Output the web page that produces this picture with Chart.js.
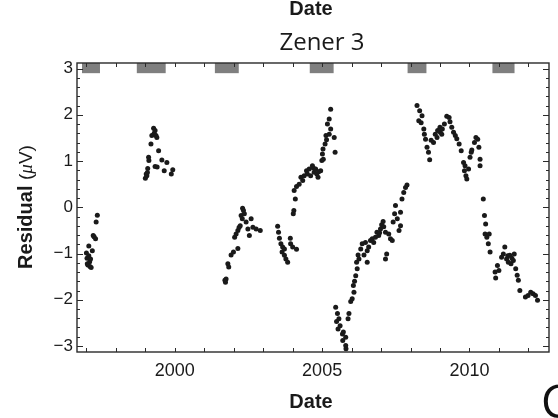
<!DOCTYPE html>
<html>
<head>
<meta charset="utf-8">
<script src="https://cdn.jsdelivr.net/npm/chart.js@4.4.1/dist/chart.umd.min.js"></script>
<style>
  html, body { margin: 0; padding: 0; background: #fff; }
  #wrap { width: 558px; height: 418px; }
</style>
</head>
<body>
<div id="wrap"><canvas id="myChart" width="558" height="418"></canvas></div>
<script>
// residual readings, date in decimal years
const dates = [
  1997.00, 1997.02, 1997.03, 1997.05, 1997.08, 1997.08, 1997.11, 1997.12, 1997.14, 1997.16, 1997.20, 1997.23, 1997.26, 1997.31, 1997.33, 1997.37,
  1999.00, 1999.03, 1999.05, 1999.07, 1999.08, 1999.11, 1999.12, 1999.19, 1999.22, 1999.28, 1999.30, 1999.33, 1999.33, 1999.36, 1999.39, 1999.40, 1999.45, 1999.56, 1999.64, 1999.73, 1999.88, 1999.93,
  2001.70, 2001.72, 2001.74, 2001.80, 2001.83, 2001.91, 2001.99, 2002.03, 2002.08, 2002.14, 2002.14, 2002.18, 2002.22, 2002.25, 2002.29, 2002.30, 2002.33, 2002.36, 2002.42, 2002.48, 2002.53, 2002.59, 2002.65, 2002.76, 2002.90,
  2003.49, 2003.52, 2003.55, 2003.60, 2003.64, 2003.66, 2003.72, 2003.72, 2003.77, 2003.83, 2003.92, 2003.93, 2004.00, 2004.13,
  2004.02, 2004.04, 2004.05, 2004.09, 2004.13, 2004.22, 2004.28, 2004.34, 2004.39, 2004.47, 2004.50, 2004.56, 2004.61, 2004.67, 2004.70, 2004.73, 2004.78, 2004.82, 2004.86, 2004.88, 2004.95, 2004.99,
  2005.01, 2005.03, 2005.04, 2005.10, 2005.13, 2005.15, 2005.18, 2005.24, 2005.24, 2005.29, 2005.29, 2005.41, 2005.44,
  2005.46, 2005.49, 2005.52, 2005.54, 2005.57, 2005.61, 2005.69, 2005.70, 2005.72, 2005.80, 2005.80, 2005.81, 2005.88, 2005.91, 2005.97,
  2006.02, 2006.06, 2006.08, 2006.10, 2006.14, 2006.17, 2006.19, 2006.22, 2006.25, 2006.31, 2006.36, 2006.42, 2006.47, 2006.53, 2006.53, 2006.58, 2006.64, 2006.70, 2006.75, 2006.81, 2006.86, 2006.92, 2006.95, 2006.98,
  2007.02, 2007.07, 2007.09, 2007.15, 2007.15, 2007.19, 2007.26, 2007.32, 2007.38, 2007.41, 2007.46, 2007.49, 2007.55, 2007.61, 2007.66, 2007.66, 2007.71, 2007.77, 2007.83, 2007.88,
  2008.22, 2008.28, 2008.31, 2008.36, 2008.39, 2008.45, 2008.47, 2008.51, 2008.56, 2008.61, 2008.65, 2008.70, 2008.78, 2008.84, 2008.90, 2008.92,
  2009.00, 2009.01, 2009.06, 2009.08, 2009.15, 2009.23, 2009.31, 2009.34, 2009.40, 2009.46, 2009.52, 2009.57, 2009.65, 2009.72, 2009.80, 2009.83, 2009.85, 2009.88, 2009.91, 2009.97,
  2010.02, 2010.06, 2010.08, 2010.17, 2010.22, 2010.28, 2010.32, 2010.36, 2010.36,
  2010.47, 2010.51, 2010.53, 2010.55, 2010.59, 2010.64, 2010.67, 2010.70, 2010.87, 2010.89, 2010.95,
  2011.00, 2011.09, 2011.15, 2011.20, 2011.26, 2011.30, 2011.32, 2011.37, 2011.41, 2011.44, 2011.49, 2011.52, 2011.57, 2011.62, 2011.66, 2011.71, 2011.90, 2011.99,
  2012.08, 2012.16, 2012.24, 2012.31
];
const residuals = [
  -0.99, -1.10, -1.22, -1.25, -0.84, -1.05, -1.18, -1.28, -1.12, -1.30, -0.94, -0.61, -0.64, -0.68, -0.32, -0.17,
  0.63, 0.72, 0.68, 0.75, 0.84, 1.08, 1.01, 1.37, 1.55, 1.71, 1.60, 1.66, 0.88, 1.55, 1.51, 0.87, 1.22, 1.02, 0.79, 0.97, 0.72, 0.81,
  -1.58, -1.62, -1.55, -1.22, -1.29, -1.03, -0.97, -0.65, -0.58, -0.50, -0.89, -0.44, -0.40, -0.18, -0.25, -0.02, -0.07, -0.14, -0.32, -0.47, -0.61, -0.25, -0.43, -0.47, -0.50,
  -0.41, -0.54, -0.67, -0.79, -0.97, -0.86, -0.90, -1.04, -1.12, -1.19, -0.67, -0.79, -0.86, -0.91,
  -0.14, -0.07, 0.36, 0.18, 0.45, 0.50, 0.65, 0.58, 0.68, 0.79, 0.72, 0.83, 0.68, 0.90, 0.85, 0.76, 0.83, 0.72, 0.65, 0.77, 0.79, 1.01,
  1.15, 1.26, 1.04, 1.37, 1.55, 1.46, 1.80, 1.58, 1.91, 1.69, 2.12, 1.51, 1.19,
  -2.16, -2.47, -2.30, -2.63, -2.41, -2.56, -2.74, -2.88, -2.70, -2.81, -2.99, -3.06, -2.41, -2.30, -2.04,
  -1.98, -1.69, -1.84, -1.60, -1.48, -1.19, -1.33, -1.03, -1.12, -0.90, -0.79, -1.03, -0.76, -0.94, -1.19, -0.86, -0.72, -0.68, -0.76, -0.65, -0.54, -0.61, -0.55, -0.47,
  -0.38, -0.31, -0.42, -0.54, -1.12, -1.01, -0.58, -0.68, -0.72, -0.32, -0.14, 0.04, -0.25, -0.50, -0.40, -0.11, 0.18, 0.32, 0.43, 0.48,
  2.20, 1.87, 2.09, 1.83, 1.98, 1.69, 1.58, 1.47, 1.30, 1.19, 1.03, 1.45, 1.40, 1.58, 1.51, 1.66,
  1.73, 1.62, 1.58, 1.69, 1.80, 1.97, 1.94, 1.85, 1.73, 1.62, 1.55, 1.48, 1.37, 1.22, 0.97, 0.79, 0.90, 0.68, 0.61, 0.83,
  1.08, 1.19, 1.24, 1.40, 1.51, 1.47, 1.30, 1.04, 0.90,
  0.18, -0.18, -0.58, -0.36, -0.65, -0.79, -0.58, -0.97, -1.40, -1.53, -1.26,
  -1.37, -1.08, -1.01, -0.86, -1.12, -1.05, -1.19, -1.04, -1.22, -1.10, -1.15, -1.01, -1.33, -1.47, -1.58, -1.80, -1.94, -1.91,
  -1.84, -1.87, -1.91, -2.01
];

// grey bars along the top edge (start / end in decimal years)
const boxStart = [1996.85, 1998.71, 2001.36, 2004.58, 2007.90, 2010.78];
const boxEnd   = [1997.46, 1999.69, 2002.17, 2005.39, 2008.54, 2011.53];
const boxBottom = 2.9;

const xLabelYears = [2000, 2005, 2010];
const yLabelValues = [-3, -2, -1, 0, 1, 2, 3];

const points = dates.map((d, i) => ({ x: d, y: residuals[i] }));

const frameColor = '#2a2a2a';
const sansFont = '"Liberation Sans", Arial, sans-serif';

const framePlugin = {
  id: 'framePlugin',
  beforeDatasetsDraw(chart) {
    const { ctx, scales: { x, y } } = chart;
    ctx.save();
    ctx.fillStyle = '#7f7f7f';
    for (let i = 0; i < boxStart.length; i++) {
      const x0 = x.getPixelForValue(boxStart[i]);
      const x1 = x.getPixelForValue(boxEnd[i]);
      const y0 = y.getPixelForValue(y.max);
      const y1 = y.getPixelForValue(boxBottom);
      ctx.fillRect(x0, y0, x1 - x0, y1 - y0);
    }
    ctx.restore();
  },
  afterDraw(chart) {
    const { ctx, chartArea: a, scales: { x, y } } = chart;
    ctx.save();
    ctx.strokeStyle = frameColor;
    ctx.lineWidth = 1.4;
    ctx.strokeRect(a.left, a.top, a.right - a.left, a.bottom - a.top);

    // inward ticks on all four sides
    ctx.lineWidth = 1;
    ctx.beginPath();
    x.ticks.forEach(t => {
      const px = Math.round(x.getPixelForValue(t.value)) + 0.5;
      ctx.moveTo(px, a.bottom); ctx.lineTo(px, a.bottom - 4);
      ctx.moveTo(px, a.top); ctx.lineTo(px, a.top + 4);
    });
    y.ticks.forEach(t => {
      const major = Math.abs(t.value - Math.round(t.value)) < 1e-6;
      const len = major ? 6 : 3;
      const py = Math.round(y.getPixelForValue(t.value)) + 0.5;
      ctx.moveTo(a.left, py); ctx.lineTo(a.left + len, py);
      ctx.moveTo(a.right, py); ctx.lineTo(a.right - len, py);
    });
    ctx.stroke();

    // titles
    ctx.fillStyle = '#1a1a1a';
    ctx.textAlign = 'center';
    ctx.textBaseline = 'alphabetic';
    ctx.font = 'bold 20px ' + sansFont;
    ctx.fillText('Date', 311, 15);
    ctx.fillText('Date', 311, 408);
    ctx.font = '24px "Open Sans", sans-serif';
    ctx.fillText('Zener 3', 322, 50);

    // y title: Residual (μV)
    ctx.translate(32, 207);
    ctx.rotate(-Math.PI / 2);
    const parts = [
      ['Residual ', 'bold 20px ' + sansFont],
      ['(', '19px ' + sansFont],
      ['\u03bc', 'italic 19px "Liberation Serif", serif'],
      ['V)', '19px ' + sansFont]
    ];
    let total = 0;
    parts.forEach(p => { ctx.font = p[1]; total += ctx.measureText(p[0]).width; });
    let cx = -total / 2;
    ctx.textAlign = 'left';
    parts.forEach(p => {
      ctx.font = p[1];
      ctx.fillText(p[0], cx, 0);
      cx += ctx.measureText(p[0]).width;
    });
    ctx.restore();

    // edge of the next panel
    ctx.save();
    ctx.fillStyle = '#111';
    ctx.font = '46px "Open Sans", sans-serif';
    ctx.textAlign = 'left';
    ctx.fillText('C', 541, 418);
    ctx.restore();
  }
};

const chart_config = {
  type: 'scatter',
  data: {
    datasets: [{
      data: points,
      pointRadius: 2.5,
      pointHoverRadius: 2.5,
      pointBackgroundColor: '#1a1a1a',
      pointBorderWidth: 0,
      showLine: false
    }]
  },
  options: {
    responsive: false,
    animation: false,
    devicePixelRatio: 1,
    layout: { padding: { top: 63, right: 9, left: 0, bottom: 0 } },
    plugins: {
      legend: { display: false },
      tooltip: { enabled: false },
      title: { display: false }
    },
    scales: {
      x: {
        type: 'linear',
        min: 1996.68,
        max: 2012.7,
        grid: { display: false, drawTicks: false },
        border: { display: false },
        afterFit(scale) { scale.height = 66; },
        ticks: {
          stepSize: 1,
          autoSkip: false,
          includeBounds: false,
          maxRotation: 0,
          padding: 8,
          color: '#1a1a1a',
          font: { family: sansFont, size: 18 },
          callback: v => xLabelYears.includes(Math.round(v)) && Math.abs(v - Math.round(v)) < 1e-6 ? String(Math.round(v)) : ''
        }
      },
      y: {
        min: -3.13,
        max: 3.12,
        grid: { display: false, drawTicks: false },
        border: { display: false },
        afterFit(scale) { scale.width = 77; },
        ticks: {
          stepSize: 0.2,
          autoSkip: false,
          includeBounds: false,
          padding: 4,
          color: '#1a1a1a',
          font: { family: sansFont, size: 17 },
          callback: v => {
            const r = Math.round(v);
            if (Math.abs(v - r) > 1e-6 || !yLabelValues.includes(r)) return '';
            return r < 0 ? '\u2212' + Math.abs(r) : String(r);
          }
        }
      }
    }
  },
  plugins: [framePlugin]
};

const ctx = document.getElementById('myChart').getContext('2d');
const myChart = new Chart(ctx, chart_config);
</script>
</body>
</html>
